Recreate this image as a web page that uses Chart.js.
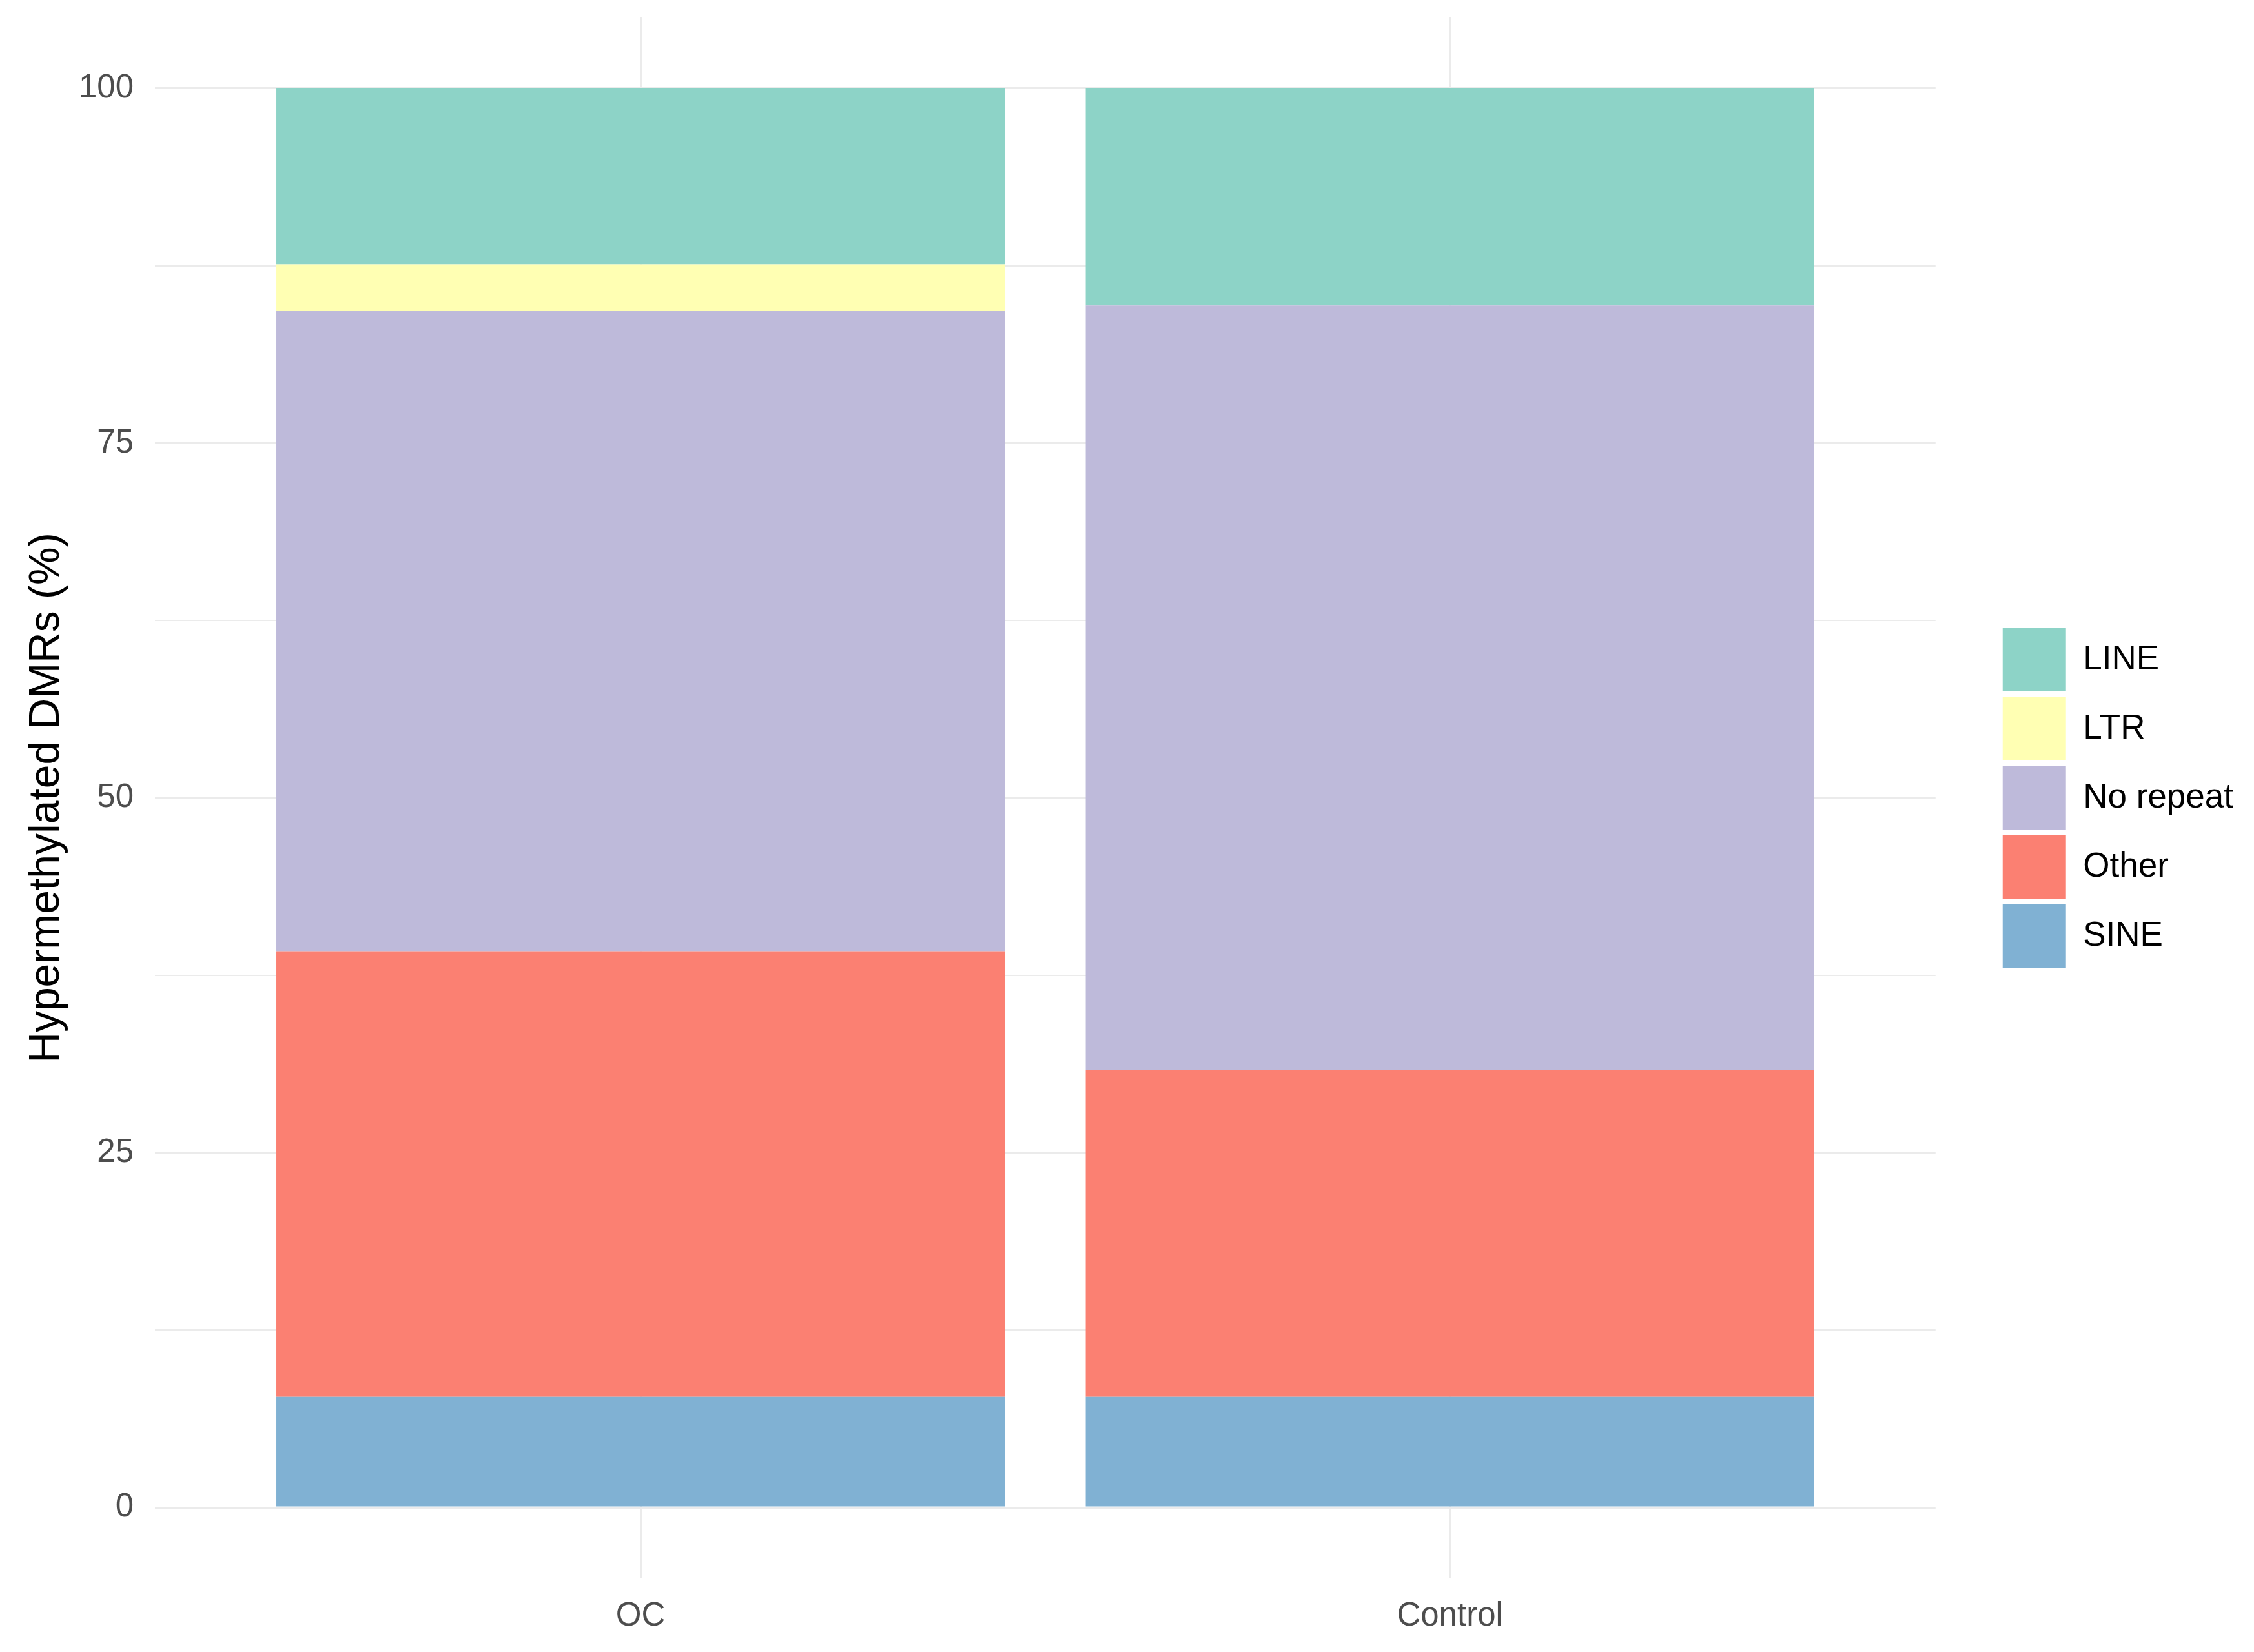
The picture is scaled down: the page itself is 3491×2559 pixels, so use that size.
<!DOCTYPE html>
<html>
<head>
<meta charset="utf-8">
<script src="https://cdn.jsdelivr.net/npm/chart.js@4"></script>
<style>
  html, body { margin: 0; padding: 0; background: #ffffff; }
  #wrap { width: 3491px; height: 2559px; position: relative; }
</style>
</head>
<body>
<div id="wrap"><canvas id="dmrChart"></canvas></div>
<script>
// categories on the x axis
const categories = ['OC', 'Control'];
const categoryPositions = [1, 2];

// repeat classes, bottom of the stack first
const sineValues = [7.8, 7.8];
const otherValues = [31.4, 23.0];
const noRepeatValues = [45.15, 53.9];
const ltrValues = [3.25, 0];
const lineValues = [12.4, 15.3];

// y gridlines and which of them carry a label
const yGridValues = [0, 12.5, 25, 37.5, 50, 62.5, 75, 87.5, 100];
const yLabelValues = [0, 25, 50, 75, 100];

const colors = {
    SINE: '#80B1D3',
    Other: '#FB8072',
    'No repeat': '#BEBADA',
    LTR: '#FFFFB3',
    LINE: '#8DD3C7'
};

const FONT = '"Liberation Sans", Arial, Helvetica, sans-serif';
const GRID = '#ebebeb';

function makeSet(label, values) {
    return {
        label: label,
        data: values.map((v, i) => ({ x: categoryPositions[i], y: v })),
        backgroundColor: colors[label],
        borderWidth: 0,
        stack: 'all',
        categoryPercentage: 1,
        barPercentage: 0.9
    };
}

const ctx = document.getElementById('dmrChart').getContext('2d');
new Chart(ctx, {
    type: 'bar',
    data: {
        datasets: [
            makeSet('SINE', sineValues),
            makeSet('Other', otherValues),
            makeSet('No repeat', noRepeatValues),
            makeSet('LTR', ltrValues),
            makeSet('LINE', lineValues)
        ]
    },
    options: {
        responsive: true,
        maintainAspectRatio: false,
        animation: false,
        layout: { padding: { left: 33, top: 27, right: 22, bottom: 25 } },
        scales: {
            x: {
                type: 'linear',
                offset: false,
                min: 0.4,
                max: 2.6,
                afterBuildTicks: (s) => { s.ticks = categoryPositions.map(v => ({ value: v })); },
                afterFit: (s) => { s.height = 89; s.paddingLeft = 0; s.paddingRight = 0; },
                grid: { color: GRID, lineWidth: 3, drawTicks: false, offset: false },
                border: { display: false },
                ticks: {
                    autoSkip: false,
                    maxRotation: 0,
                    padding: 28,
                    color: '#4d4d4d',
                    font: { family: FONT, size: 51 },
                    callback: (v) => categories[categoryPositions.indexOf(v)]
                }
            },
            y: {
                stacked: true,
                min: -5,
                max: 105,
                afterBuildTicks: (s) => { s.ticks = yGridValues.map(v => ({ value: v })); },
                afterFit: (s) => { s.width = 207; s.paddingTop = 0; s.paddingBottom = 0; },
                grid: {
                    color: GRID,
                    drawTicks: false,
                    lineWidth: (c) => (c.tick && yLabelValues.includes(c.tick.value)) ? 3 : 2
                },
                border: { display: false },
                ticks: {
                    autoSkip: false,
                    padding: 33,
                    color: '#4d4d4d',
                    font: { family: FONT, size: 51 },
                    callback: (v) => yLabelValues.includes(v) ? String(v) : ''
                },
                title: {
                    display: true,
                    text: 'Hypermethylated DMRs (%)',
                    color: '#000000',
                    font: { family: FONT, size: 66 },
                    padding: { top: 0, bottom: 10 }
                }
            },
            gap: {
                type: 'linear',
                position: 'right',
                display: true,
                grid: { display: false, drawTicks: false },
                border: { display: false },
                ticks: { display: false },
                afterFit: (s) => { s.width = 95; s.paddingTop = 0; s.paddingBottom = 0; }
            }
        },
        plugins: {
            legend: {
                position: 'right',
                reverse: true,
                fullSize: false,
                labels: {
                    boxWidth: 98,
                    boxHeight: 98,
                    padding: 9,
                    color: '#000000',
                    font: { family: FONT, size: 53 }
                }
            },
            tooltip: { enabled: false }
        }
    }
});
</script>
</body>
</html>
